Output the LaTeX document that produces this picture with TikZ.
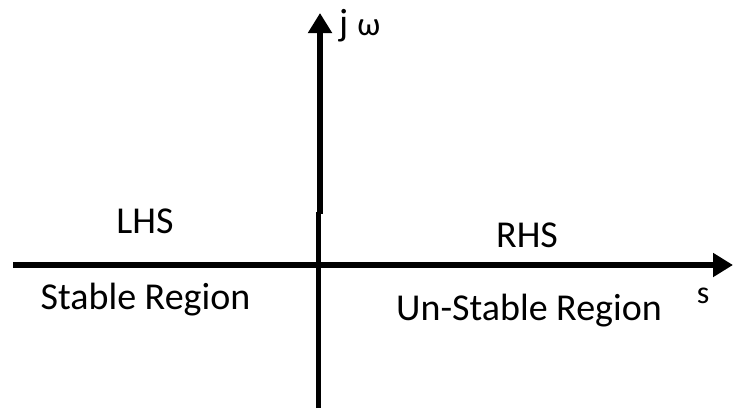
\documentclass[tikz,border=0pt]{standalone}
\usepackage{fontspec}
\setmainfont{Carlito}
\usetikzlibrary{arrows.meta}
\begin{document}
\begin{tikzpicture}[x=1pt,y=-1pt,
  axis/.style={line width=5.5pt,line cap=butt},
  tip/.style={-{Triangle[width=23pt,length=20pt]}},
  lbl/.style={font=\fontsize{38}{45}\selectfont,anchor=base,inner sep=0pt}]
\useasboundingbox[fill=white] (0,0) rectangle (735,408);
\coordinate (xl) at (13,265);
\coordinate (xr) at (733,265);
\coordinate (yb) at (318.5,408);
\coordinate (ym) at (318.5,212);
\coordinate (ym2) at (320,214);
\coordinate (yt) at (320,13);
\draw[axis,tip] (xl) -- (xr);
\draw[axis] (yb) -- (ym);
\draw[axis,tip] (ym2) -- (yt);
\node[lbl] (lhs) at (145,233) {LHS};
\node[lbl] (rhs) at (527,247) {RHS};
\node[lbl] (stab) at (145.5,309) {Stable Region};
\node[lbl] (unst) at (529,320) {Un-Stable Region};
\node[lbl,font=\fontsize{32}{36}\selectfont] (s) at (703,303) {s};
\node[lbl,anchor=base west,font=\fontsize{38}{40}\selectfont] (jw) at (339,35) {j\hspace{9pt}{\fontsize{33}{34}\selectfont ω}};
\end{tikzpicture}
\end{document}
